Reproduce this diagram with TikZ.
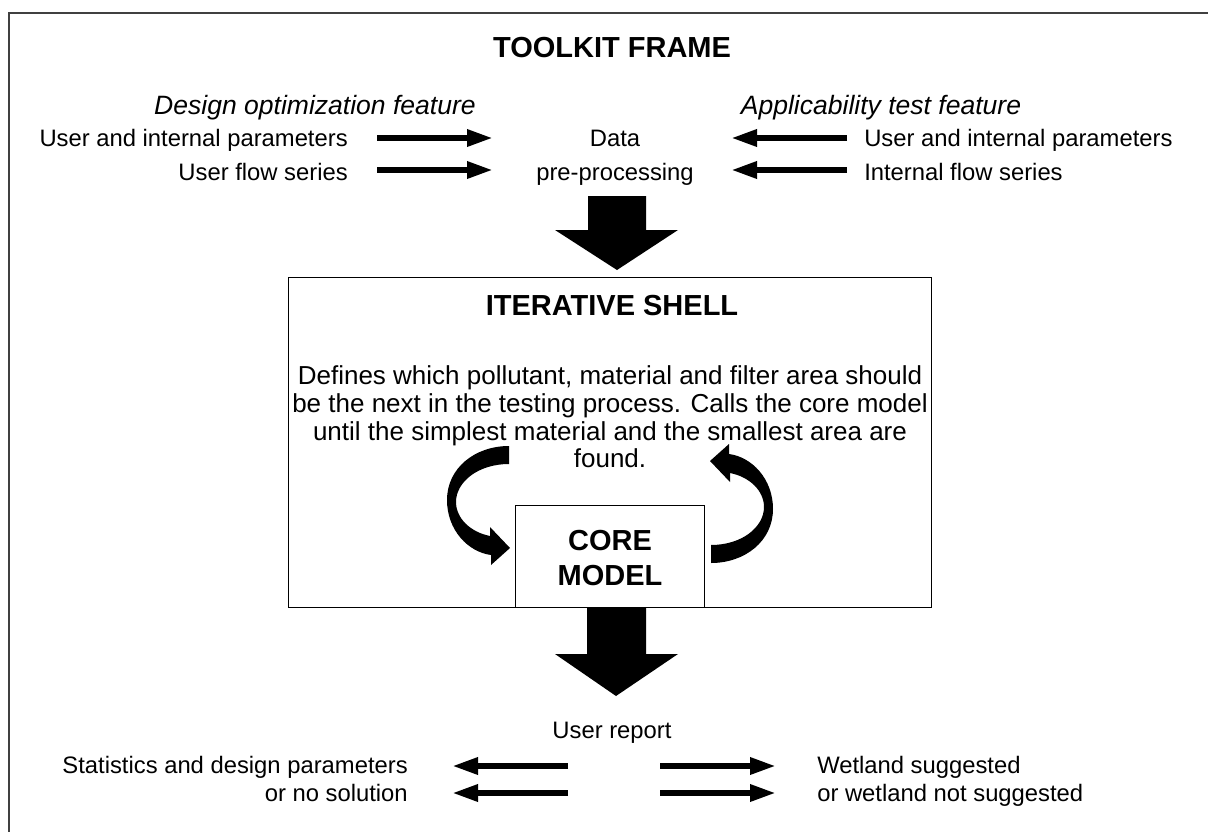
\documentclass[tikz,border=0pt]{standalone}
\usepackage{fontspec}
\setmainfont{Liberation Sans}
\usetikzlibrary{arrows.meta}
\definecolor{framecol}{HTML}{404040}
\begin{document}
\begin{tikzpicture}[x=0.75pt,y=-0.75pt,
  lbl/.style={font=\fontsize{17.85}{20}\selectfont, inner sep=0pt},
  ital/.style={font=\fontsize{19.9}{22}\selectfont\itshape, inner sep=0pt},
  ttl/.style={font=\fontsize{21.75}{24}\selectfont\bfseries, inner sep=0pt},
  para/.style={font=\fontsize{19.5}{21}\selectfont, inner sep=0pt},
  thinarrow/.style={line width=4.5pt, -{Triangle[length=19.5pt,width=12pt]}},
  bigarrow/.style={fill=black},
  boxstyle/.style={draw=black, line width=1.1pt}
]
\useasboundingbox (0,0) rectangle (1208,832);
\begin{scope}
\clip (0,0) rectangle (1208,832);
\draw[framecol, line width=1.6pt] (9,13) rectangle (1240,860);
\end{scope}

% titles
\node[ttl, anchor=base] (toolkit) at (612,57) {TOOLKIT FRAME};
\node[ital, anchor=base] (dof) at (315,114) {Design optimization feature};
\node[ital, anchor=base] (atf) at (881,114) {Applicability test feature};

% left inputs
\node[lbl, anchor=base east] (uip1) at (348,146) {User and internal parameters};
\node[lbl, anchor=base east] (ufs) at (348,180) {User flow series};
% right inputs
\node[lbl, anchor=base west] (uip2) at (864,146) {User and internal parameters};
\node[lbl, anchor=base west] (ifs) at (864,180) {Internal flow series};
% data preprocessing
\node[lbl, anchor=base] (data) at (615,146) {Data};
\node[lbl, anchor=base] (prep) at (615,180) {pre-processing};

\coordinate (a1s) at (377,138); \coordinate (a1e) at (493,138);
\coordinate (a2s) at (377,170); \coordinate (a2e) at (493,170);
\coordinate (a3s) at (847,138); \coordinate (a3e) at (731,138);
\coordinate (a4s) at (847,170); \coordinate (a4e) at (731,170);
\draw[thinarrow] (a1s) -- (a1e);
\draw[thinarrow] (a2s) -- (a2e);
\draw[thinarrow] (a3s) -- (a3e);
\draw[thinarrow] (a4s) -- (a4e);

% big arrow down to shell
\fill[bigarrow] (588,196) -- (646,196) -- (646,230) -- (678,230) -- (617,270) -- (555,230) -- (588,230) -- cycle;

% shell
\node[boxstyle, minimum width=643*0.75pt, minimum height=330*0.75pt, anchor=north west, inner sep=0pt] (shell) at (288,277) {};
\node[ttl, anchor=base] (shelltitle) at (612,315) {ITERATIVE SHELL};
\node[para, anchor=base] (p1) at (610,384) {Defines which pollutant, material and filter area should};
\node[para, anchor=base] (p2) at (610,412) {be the next in the testing process. Calls the core model};
\node[para, anchor=base] (p3) at (610,440) {until the simplest material and the smallest area are};
\node[para, anchor=base] (p4) at (610,467) {found.};

% core
\node[boxstyle, fill=white, minimum width=189*0.75pt, minimum height=102*0.75pt, anchor=north west, inner sep=0pt] (core) at (515,505) {};
\node[ttl, anchor=base] (core1) at (610,550) {CORE};
\node[ttl, anchor=base] (core2) at (610,585) {MODEL};

% curved arrows
\foreach \r in {0,180}{
\fill[rotate around={\r:(610,504.5)}] (509,446) .. controls (475,446) and (447,468) .. (447,500)
  .. controls (447,530) and (468,552) .. (491,555) -- (491,565) -- (510,548) -- (490,527) -- (490,536)
  .. controls (470,532) and (456,518) .. (456,502) .. controls (456,482) and (478,464) .. (509,464) -- cycle;
}

% big arrow down to report
\fill[bigarrow] (587,608) -- (646,608) -- (646,654) -- (678,654) -- (616,696) -- (555,654) -- (587,654) -- cycle;

\node[lbl, anchor=base] (report) at (612,738) {User report};
\node[lbl, anchor=base east] (stat) at (408,773) {Statistics and design parameters};
\node[lbl, anchor=base east] (nosol) at (408,801) {or no solution};
\node[lbl, anchor=base west] (wet) at (817,773) {Wetland suggested};
\node[lbl, anchor=base west] (wetno) at (817,801) {or wetland not suggested};

\coordinate (b1s) at (568,766); \coordinate (b1e) at (452,766);
\coordinate (b2s) at (568,793); \coordinate (b2e) at (452,793);
\coordinate (b3s) at (660,766); \coordinate (b3e) at (776,766);
\coordinate (b4s) at (660,793); \coordinate (b4e) at (776,793);
\draw[thinarrow] (b1s) -- (b1e);
\draw[thinarrow] (b2s) -- (b2e);
\draw[thinarrow] (b3s) -- (b3e);
\draw[thinarrow] (b4s) -- (b4e);
\end{tikzpicture}
\end{document}
